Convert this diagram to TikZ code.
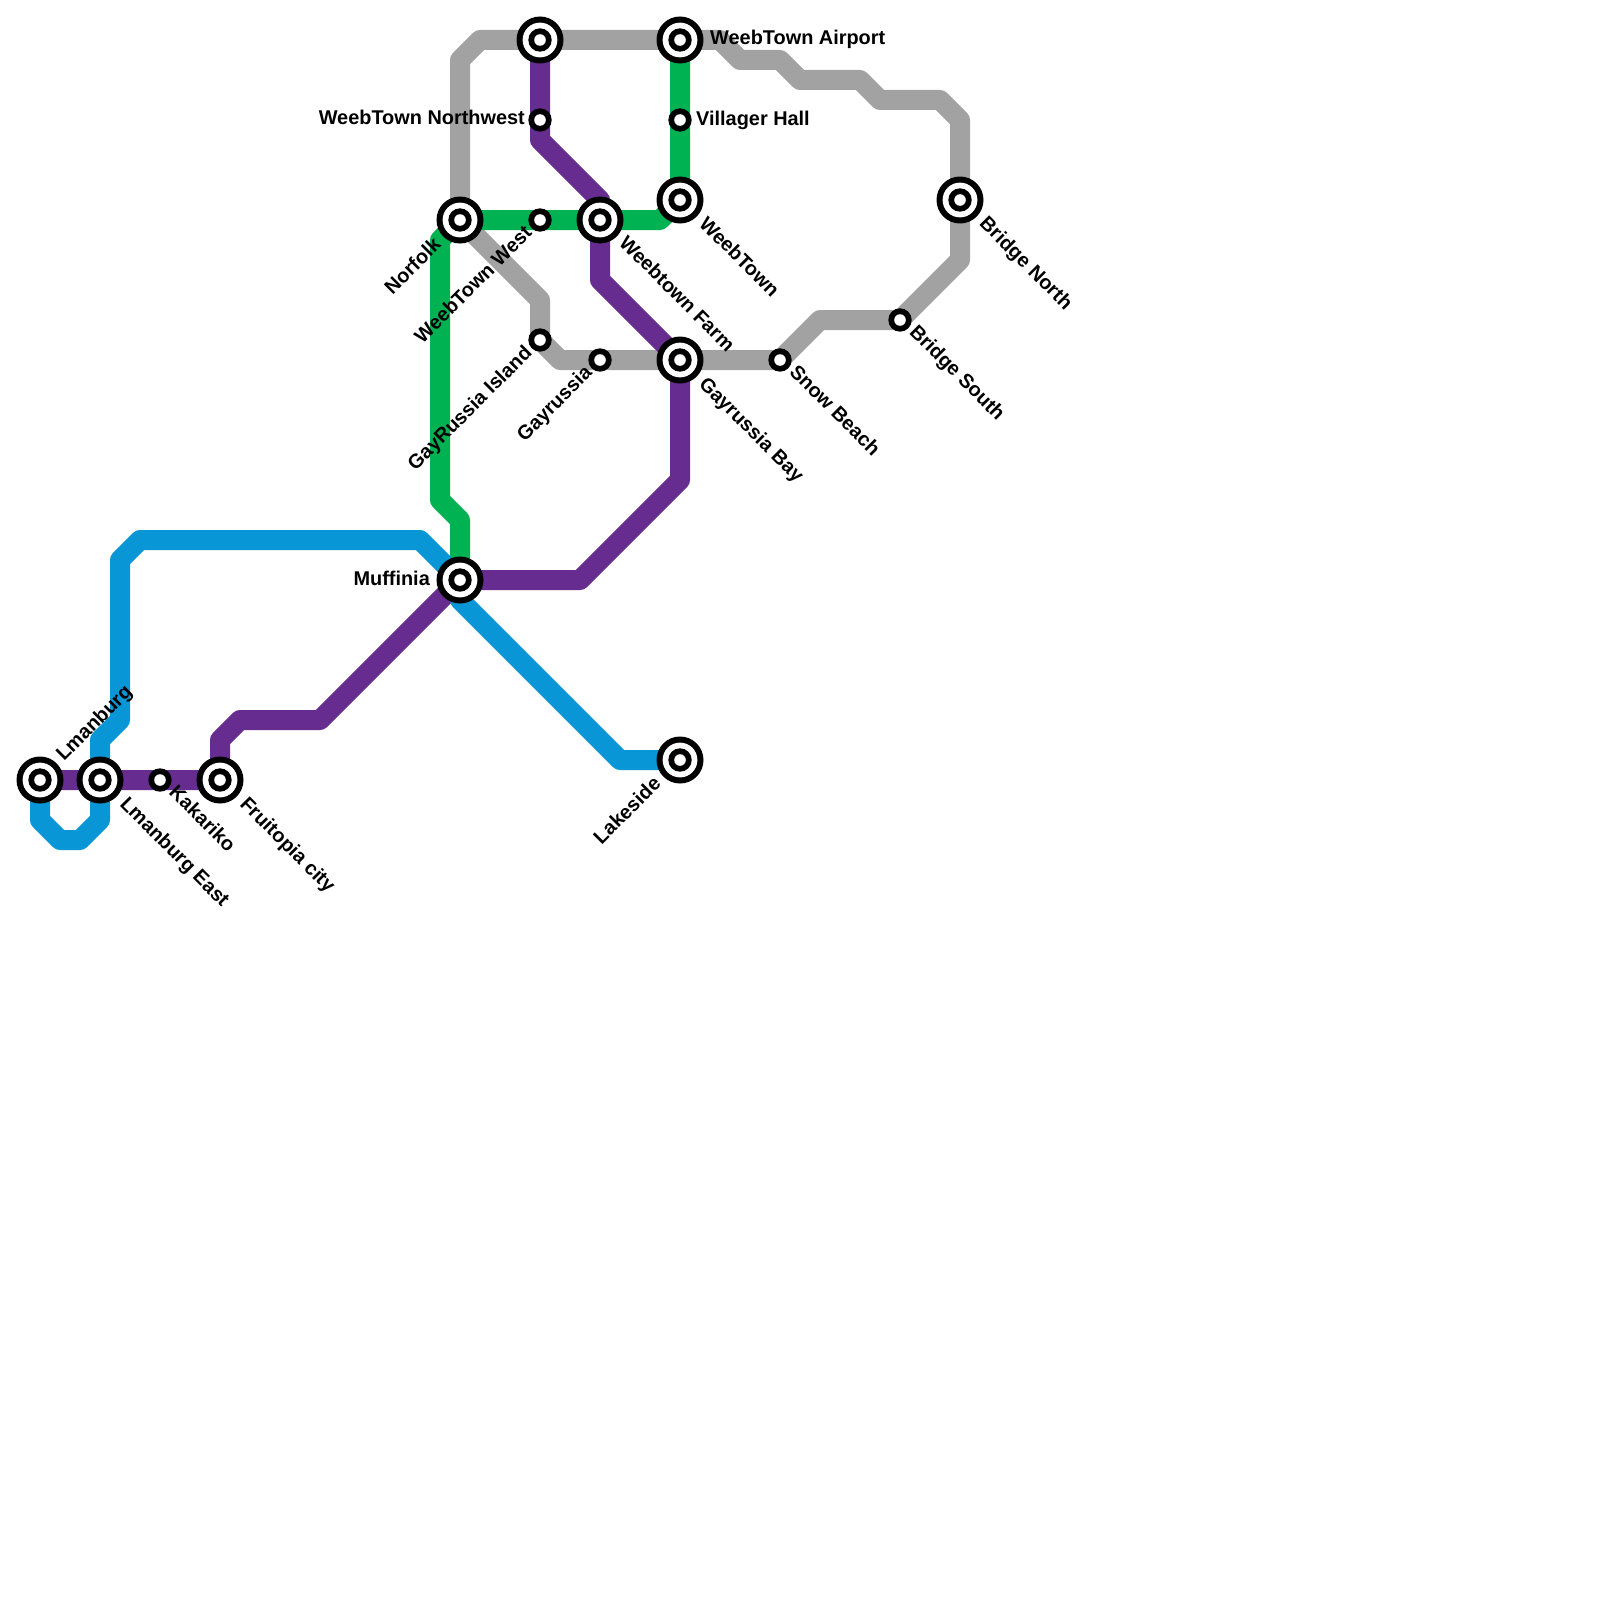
\documentclass[tikz,border=0pt]{standalone}
\usepackage{fontspec}
\setmainfont{Liberation Sans}
\usetikzlibrary{backgrounds}
\definecolor{lpurple}{HTML}{662C90}
\definecolor{lblue}{HTML}{0896D7}
\definecolor{lgreen}{HTML}{00B251}
\definecolor{lgray}{HTML}{A2A2A2}
\tikzset{
  line/.style={line width=20pt,line join=round,line cap=butt},
  stationpoint/.style={circle,inner sep=0pt,minimum size=1pt},
  lab/.style={inner sep=0pt,font=\fontsize{19.9}{24}\selectfont\bfseries,text=black},
  labR/.style={lab,anchor=base west},
  labL/.style={lab,anchor=base east},
  labDown/.style={lab,anchor=base west,rotate=-45},
  labUpEnd/.style={lab,anchor=base east,rotate=45},
  labUpStart/.style={lab,anchor=base west,rotate=45}
}
\newcommand{\ringst}[2]{\node[stationpoint] (#1) at (#2) {};
  \fill[black] (#1.center) circle (11.7pt);
  \fill[white] (#1.center) circle (5.8pt);}
\newcommand{\bigst}[2]{\node[stationpoint] (#1) at (#2) {};
  \fill[black] (#1.center) circle (23.5pt);
  \fill[white] (#1.center) circle (17.4pt);
  \fill[black] (#1.center) circle (11.7pt);
  \fill[white] (#1.center) circle (5.8pt);}
\begin{document}
\begin{tikzpicture}[x=1pt,y=-1pt]
\useasboundingbox (0,0) rectangle (1600,1600);
% stations
\bigst{lm}{40,780}
\bigst{lme}{100,780}
\ringst{kak}{160,780}
\bigst{fru}{220,780}
\bigst{muf}{460,580}
\bigst{nor}{460,220}
\ringst{wtw}{540,220}
\bigst{wtf}{600,220}
\bigst{wt}{680,200}
\ringst{vil}{680,120}
\bigst{air}{680,40}
\bigst{top}{540,40}
\ringst{wtn}{540,120}
\ringst{gri}{540,340}
\ringst{gay}{600,360}
\bigst{gab}{680,360}
\ringst{sno}{780,360}
\ringst{brs}{900,320}
\bigst{brn}{960,200}
\bigst{lak}{680,760}
% lines
\begin{pgfonlayer}{background}
\path[fill=white] (0,0) rectangle (1600,1600);
\draw[line,lgray] (nor.center) -- (460,60) -- (480,40) -- (top.center) -- (air.center) -- (720,40) -- (740,60) -- (780,60) -- (800,80) -- (860,80) -- (880,100) -- (940,100) -- (960,120) -- (brn.center) -- (960,260) -- (brs.center) -- (820,320) -- (sno.center) -- (gab.center) -- (gay.center) -- (560,360) -- (gri.center) -- (540,300) -- (nor.center);
\draw[line,lgreen] (air.center) -- (vil.center) -- (wt.center) -- (660,220) -- (wtf.center) -- (wtw.center) -- (nor.center) -- (440,240) -- (440,500) -- (460,520) -- (muf.center);
\draw[line,lpurple] (lm.center) -- (lme.center) -- (kak.center) -- (fru.center) -- (220,740) -- (240,720) -- (320,720) -- (muf.center) -- (580,580) -- (680,480) -- (gab.center) -- (600,280) -- (wtf.center) -- (600,200) -- (540,140) -- (wtn.center) -- (top.center);
\draw[line,lblue] (lak.center) -- (620,760) -- (460,600) -- (muf.center) -- (420,540) -- (140,540) -- (120,560) -- (120,720) -- (100,740) -- (lme.center) -- (100,820) -- (80,840) -- (60,840) -- (40,820) -- (lm.center);
\end{pgfonlayer}
% labels
\node[labUpStart] (t1) at (64,762) {Lmanburg};
\node[labDown] (t2) at (119,805) {Lmanburg East};
\node[labDown] (t3) at (168,793.5) {Kakariko};
\node[labDown] (t4) at (239,805) {Fruitopia city};
\node[labL] (t5) at (430,585) {Muffinia};
\node[labUpEnd] (t6) at (442,246) {Norfolk};
\node[labUpEnd] (t7) at (533,234) {WeebTown West};
\node[labUpEnd] (t8) at (533,354) {GayRussia Island};
\node[labUpEnd] (t9) at (593,374) {Gayrussia};
\node[labUpEnd] (t10) at (662,785) {Lakeside};
\node[labL] (t11) at (525,124.5) {WeebTown Northwest};
\node[labR] (t12) at (696,125) {Villager Hall};
\node[labR] (t13) at (710,45) {WeebTown Airport};
\node[labDown] (t14) at (698,225) {WeebTown};
\node[labDown] (t15) at (618,244) {Weebtown Farm};
\node[labDown] (t16) at (698,385) {Gayrussia Bay};
\node[labDown] (t17) at (788.5,373) {Snow Beach};
\node[labDown] (t18) at (908.5,333) {Bridge South};
\node[labDown] (t19) at (978.5,224.5) {Bridge North};
\end{tikzpicture}
\end{document}
